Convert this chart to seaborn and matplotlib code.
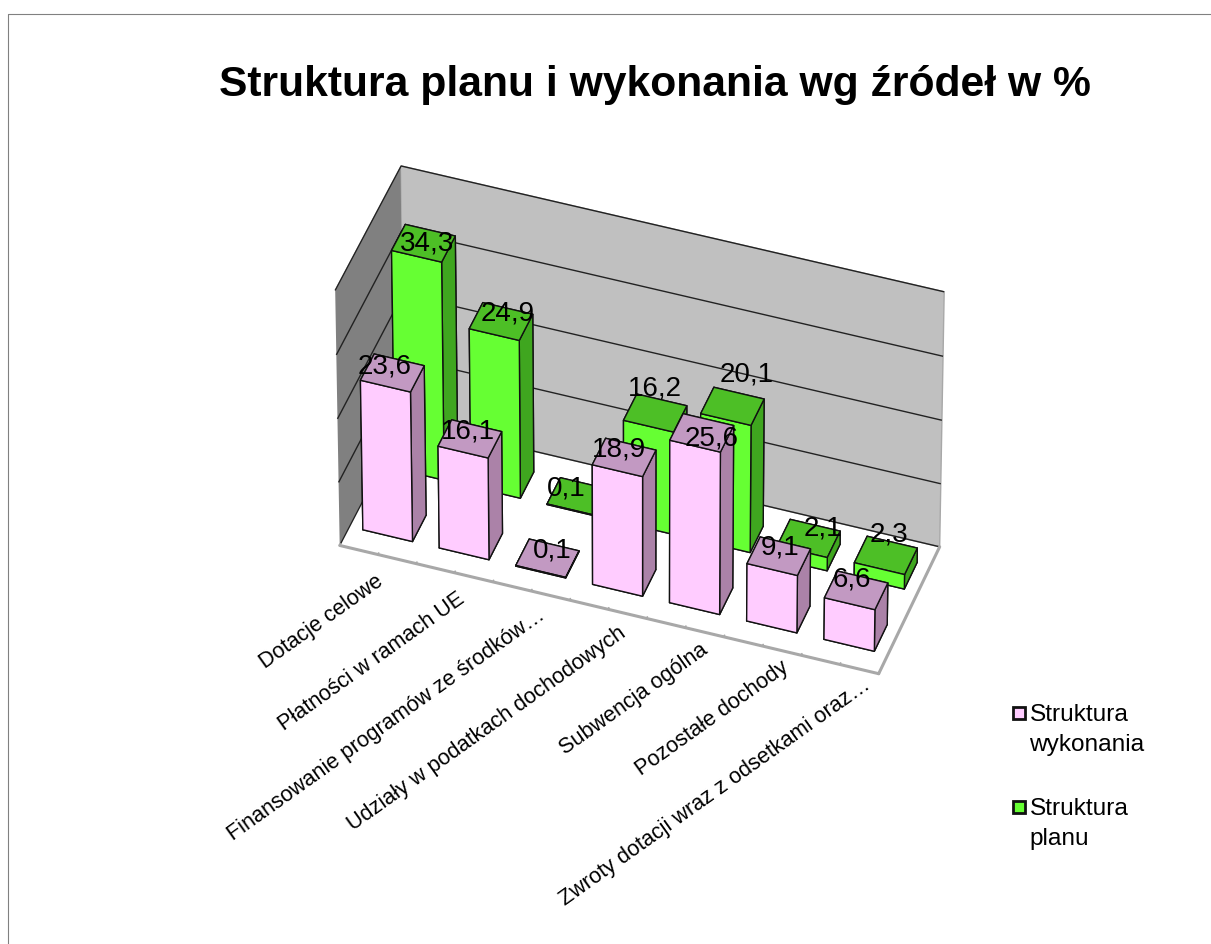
import numpy as np
import pandas as pd
import seaborn as sns
import matplotlib.pyplot as plt
from matplotlib.lines import Line2D
from mpl_toolkits.mplot3d import proj3d

categories = ['Dotacje celowe', 'Płatności w ramach UE', 'Finansowanie programów ze środków…',
              'Udziały w podatkach dochodowych', 'Subwencja ogólna', 'Pozostałe dochody',
              'Zwroty dotacji wraz z odsetkami oraz…']
wykonanie = [23.6, 16.1, 0.1, 18.9, 25.6, 9.1, 6.6]
plan = [34.3, 24.9, 0.1, 16.2, 20.1, 2.1, 2.3]
labels_wyk = ['23,6', '16,1', '0,1', '18,9', '25,6', '9,1', '6,6']
labels_plan = ['34,3', '24,9', '0,1', '16,2', '20,1', '2,1', '2,3']
# przesuniecia etykiet w pikselach (dx, dy)
shift_wyk = [(-8, 6), (-2, 7), (5, 8), (-5, 8), (10, -6), (1, 9), (-4, 11)]
shift_plan = [(4, 0), (7, 8), (-12, 8), (0, 25), (14, 32), (14, 10), (3, 21)]

sns.set_theme(style='white')
plt.rcParams['font.family'] = ['Liberation Sans', 'DejaVu Sans']
plt.rcParams['text.color'] = 'black'

df = pd.DataFrame({'kat': categories, 'Struktura wykonania': wykonanie, 'Struktura planu': plan})

# kolory scian slupka: dol, gora, przod, tyl, lewa, prawa
pink = ['#ffccff', '#c299c2', '#ffccff', '#ffccff', '#ab82a8', '#ab82a8']
green = ['#66ff33', '#4dbf26', '#66ff33', '#66ff33', '#3fa61f', '#3fa61f']

fig = plt.figure(figsize=(12.11, 9.44), dpi=100)
ax = fig.add_axes([0.130, 0.155, 0.78, 0.78], projection='3d', computed_zorder=False)
ax.set_proj_type('persp', focal_length=4)
ax.view_init(elev=43, azim=-71)
ax.set_box_aspect((3.2, 1.09, 1.95), zoom=0.92)

n = len(df)
bar_w, bar_d = 0.65, 0.42
row_off = [0.3, 1.28]
xs, ys, hs, cols = [], [], [], []
for row, (name, pal) in enumerate([('Struktura wykonania', pink), ('Struktura planu', green)]):
    for i, v in enumerate(df[name]):
        xs.append(i + (1 - bar_w) / 2)
        ys.append(row_off[row])
        hs.append(v)
        cols += pal
bars = ax.bar3d(xs, ys, np.zeros(len(xs)), bar_w, bar_d, hs, color=cols, shade=False,
                edgecolor='#111111', linewidth=1.0)
bars.set_clip_on(False)

ax.set_xlim(0, n)
ax.set_ylim(0, 2)
ax.set_zlim(0, 40)
ax.xaxis.set_pane_color('#808080')
ax.yaxis.set_pane_color('#c0c0c0')
ax.zaxis.set_pane_color('white')
for axis in [ax.xaxis, ax.yaxis, ax.zaxis]:
    axis.pane.set_edgecolor('#a8a8a8')
    axis.line.set_color('#a8a8a8')
    axis.line.set_linewidth(2.2)
    axis._axinfo['tick']['inward_factor'] = 0
    axis._axinfo['tick']['outward_factor'] = 0
ax.zaxis.line.set_color((0, 0, 0, 0))
ax.xaxis._axinfo['tick']['outward_factor'] = 0.15
ax.tick_params(axis='x', color='#a8a8a8', width=1.2)
ax.set_xticks(np.arange(0, n + 0.5, 0.5))
ax.set_xticklabels([])
ax.set_yticks([])
ax.set_zticks([0, 10, 20, 30, 40])
ax.set_zticklabels([])
ax.grid(True)
ax.xaxis._axinfo['grid']['color'] = (0, 0, 0, 0)
ax.yaxis._axinfo['grid']['color'] = (0, 0, 0, 0)
ax.zaxis._axinfo['grid'].update(color='#222222', linewidth=1.0)


def to_2d(x, y, z):
    px, py, _ = proj3d.proj_transform(x, y, z, ax.get_proj())
    return px, py


for i, c in enumerate(categories):
    px, py = to_2d(i * 1.04 + 0.57, -0.24 + 0.03 * i, 0)
    ax.text2D(px, py, c, transform=ax.transData, rotation=35.5, ha='right', va='top',
              rotation_mode='anchor', fontsize=15.6, color='black')

for i in range(n):
    for row, vals, labs, sh in [(0, wykonanie, labels_wyk, shift_wyk), (1, plan, labels_plan, shift_plan)]:
        px, py = to_2d(i + 0.5, row_off[row] + bar_d / 2, vals[i])
        ax.annotate(labs[i], (px, py), xytext=sh[i], textcoords='offset pixels', ha='center', va='center',
                    fontsize=20, color='black', zorder=20)

fig.text(0.541, 0.910, 'Struktura planu i wykonania wg źródeł w %', ha='center', va='center',
         fontsize=30.7, fontweight='bold', color='black')
handles = [Line2D([], [], marker='s', ls='', mfc='#ffccff', mec='#111111', mew=2, ms=8.5, label='Struktura\nwykonania'),
           Line2D([], [], marker='s', ls='', mfc='#66ff33', mec='#111111', mew=2, ms=8.5, label='Struktura\nplanu')]
leg = fig.legend(handles=handles, loc='center left', bbox_to_anchor=(0.8027, 0.177), frameon=False,
                 fontsize=17.6, handletextpad=-0.55, labelspacing=1.74)
for t in leg.get_texts():
    t.set_color('black')
    t.set_linespacing(1.45)
for h in leg.legend_handles:
    h.set_ydata(np.asarray(h.get_ydata()) + 12)
fig.add_artist(Line2D([0.0066, 0.0066, 1], [0, 0.985, 0.985], color='#808080', lw=0.8))
fig.savefig('out.png', dpi=100)
